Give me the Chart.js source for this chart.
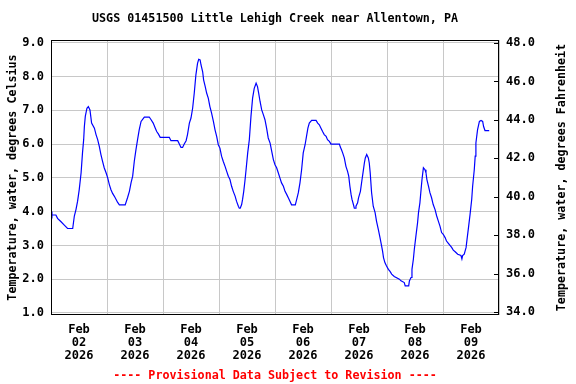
<!DOCTYPE html>
<html>
<head>
<meta charset="utf-8">
<script src="https://cdn.jsdelivr.net/npm/chart.js@4/dist/chart.umd.min.js"></script>
<style>
  html, body { margin: 0; padding: 0; background: #ffffff; }
  #wrap { width: 576px; height: 384px; }
</style>
</head>
<body>
<div id="wrap"><canvas id="c" width="576" height="384"></canvas></div>
<script>
// ---- data (hours since Feb 02 2026 00:00, water temperature in deg C) ----
const hours = [
  0, 0.4, 2.1, 2.8, 4.3, 5.7, 7.1, 9.3, 10.0, 10.7, 11.4, 12.1, 12.9, 13.5, 14.0, 14.3, 14.7, 15.4, 16.0,
  16.7, 17.4, 18.6, 19.3, 20.0, 20.7, 21.4, 22.1, 22.8, 23.6, 24.3, 25.0, 25.7, 26.4, 27.1, 27.9, 28.5, 29.3, 31.8,
  32.8, 33.6, 34.3, 35.0, 35.7, 36.4, 37.1, 37.8, 38.6, 40.0, 42.1, 42.9, 43.8, 44.7, 45.3, 46.0, 46.8, 50.7,
  51.4, 54.3, 55.0, 55.7, 56.4, 57.1, 57.9, 58.5, 59.3, 60.0, 60.7, 61.4, 62.1, 62.8, 63.3, 63.9,
  64.3, 65.0, 65.4, 66.1, 66.7, 67.4, 68.1, 68.8, 69.6, 70.3, 71.0, 71.7, 72.4, 73.1, 73.8, 74.6, 75.3, 76.0,
  76.7, 77.4, 78.1, 78.9, 79.5, 80.3, 80.7, 81.1, 81.7, 82.1, 82.6, 83.1, 83.6, 84.3, 85.0, 85.7, 86.4, 87.1, 87.9,
  88.5, 89.0, 89.6, 90.3, 91.0, 91.7, 92.4, 93.1, 93.9, 94.6, 95.3, 96.0, 96.7, 97.4, 98.1, 98.8, 99.6, 100.3,
  101.0, 101.7, 102.4, 103.1, 104.7, 105.3, 106.0, 106.7, 107.4, 108.1, 108.9, 109.5, 110.1, 110.7, 111.7, 113.6,
  114.3, 115.0, 115.7, 116.4, 117.1, 117.9, 118.5, 119.3, 120.0, 123.6, 124.0, 124.5, 125.0, 125.7, 126.4, 127.1,
  127.6, 128.1, 128.6, 129.0, 129.6, 130.0, 130.4, 130.7, 131.4, 131.8, 132.6, 133.3, 133.8, 134.3, 134.7, 135.3,
  136.0, 136.4, 136.8, 137.4, 138.1, 138.9, 139.5, 140.3, 141.0, 141.7, 142.1, 142.5, 143.1, 143.8, 144.6, 145.3,
  146.0, 147.1, 149.3, 150.0, 151.4, 151.8, 153.3, 153.6, 154.3, 154.7, 155.3, 155.7, 156.4, 157.1, 157.5, 158.1,
  158.6, 159.0, 159.6, 160.3, 160.7, 161.1, 161.8, 162.4, 163.1, 163.8, 164.6, 165.3, 166.0, 166.7, 167.4, 168.1,
  168.9, 169.5, 170.3, 171.0, 171.7, 172.4, 173.1, 174.3, 175.7, 176.1, 176.4, 177.1, 177.9, 178.3, 179.0, 179.6,
  180.3, 180.7, 181.4, 181.8, 182.1, 182.8, 183.6, 184.3, 185.0, 185.4, 186.0, 187.8
];
const tempC = [
  4.0, 3.9, 3.9, 3.8, 3.7, 3.6, 3.5, 3.5, 3.87, 4.06, 4.31, 4.65, 5.15, 5.74, 6.13, 6.52, 6.82, 7.06, 7.11,
  7.01, 6.62, 6.47, 6.28, 6.13, 5.93, 5.69, 5.49, 5.30, 5.15, 5.00, 4.80, 4.65, 4.54, 4.46, 4.36, 4.28, 4.2, 4.2,
  4.41, 4.60, 4.85, 5.05, 5.49, 5.83, 6.13, 6.42, 6.67, 6.8, 6.8, 6.72, 6.62, 6.47, 6.37, 6.30, 6.2, 6.2,
  6.1, 6.1, 6.0, 5.9, 5.9, 6.0, 6.1, 6.28, 6.62, 6.77, 7.06, 7.51, 8.05, 8.39, 8.51, 8.49,
  8.34, 8.14, 7.90, 7.70, 7.51, 7.36, 7.11, 6.92, 6.67, 6.42, 6.23, 5.98, 5.88, 5.64, 5.49, 5.34, 5.19, 5.05,
  4.95, 4.75, 4.60, 4.46, 4.31, 4.16, 4.1, 4.1, 4.21, 4.36, 4.60, 4.90, 5.24, 5.74, 6.13, 6.82, 7.36, 7.65, 7.80,
  7.70, 7.51, 7.26, 7.01, 6.87, 6.72, 6.47, 6.18, 6.03, 5.78, 5.54, 5.39, 5.30, 5.15, 5.00, 4.85, 4.75, 4.60,
  4.51, 4.41, 4.31, 4.2, 4.2, 4.36, 4.56, 4.85, 5.24, 5.74, 5.98, 6.23, 6.47, 6.62, 6.7, 6.7,
  6.62, 6.57, 6.47, 6.37, 6.28, 6.23, 6.13, 6.08, 6.0, 6.0, 5.91, 5.83, 5.74, 5.59, 5.34, 5.19,
  5.05, 4.75, 4.51, 4.36, 4.21, 4.1, 4.1, 4.16, 4.26, 4.41, 4.60, 4.95, 5.19, 5.44, 5.59, 5.69,
  5.59, 5.44, 5.15, 4.56, 4.16, 3.97, 3.72, 3.47, 3.23, 2.98, 2.83, 2.64, 2.49, 2.39, 2.29, 2.23,
  2.15, 2.08, 2.0, 1.95, 1.9, 1.8, 1.8, 1.95, 2.05, 2.29, 2.59, 2.88, 3.28, 3.67, 3.97, 4.26,
  4.65, 4.95, 5.3, 5.24, 5.15, 4.95, 4.75, 4.56, 4.41, 4.21, 4.06, 3.87, 3.72, 3.57, 3.38, 3.33,
  3.23, 3.13, 3.06, 3.0, 2.94, 2.86, 2.82, 2.74, 2.7, 2.6, 2.7, 2.74, 2.94, 3.18, 3.57, 3.92,
  4.36, 4.75, 5.24, 5.64, 6.03, 6.42, 6.67, 6.7, 6.67, 6.52, 6.4, 6.4
];
const labelHours = [12, 36, 60, 84, 108, 132, 156, 180];
const labelMonth = ["Feb", "Feb", "Feb", "Feb", "Feb", "Feb", "Feb", "Feb"];
const labelDay = ["02", "03", "04", "05", "06", "07", "08", "09"];
const labelYear = ["2026", "2026", "2026", "2026", "2026", "2026", "2026", "2026"];
const celsiusTicks = [1, 2, 3, 4, 5, 6, 7, 8, 9];
const fahrenheitTicks = [34, 36, 38, 40, 42, 44, 46, 48];
const titleText = "USGS 01451500 Little Lehigh Creek near Allentown, PA";
const leftAxisTitle = "Temperature, water, degrees Celsius";
const rightAxisTitle = "Temperature, water, degrees Fahrenheit";
const footerText = "---- Provisional Data Subject to Revision ----";

const FONT = "'DejaVu Sans Mono', 'Liberation Mono', monospace";
const points = hours.map((h, i) => ({ x: h, y: tempC[i] }));

const framePlugin = {
  id: 'frame',
  afterDraw(chart) {
    const { ctx, chartArea: a } = chart;
    const cx = (a.left + a.right) / 2;
    ctx.save();
    // plot frame
    ctx.strokeStyle = '#000';
    ctx.lineWidth = 1;
    ctx.strokeRect(a.left + 0.5, a.top + 0.5, a.right - a.left - 1, a.bottom - a.top - 1);
    // inward ticks on the right (Fahrenheit) axis
    const y2 = chart.scales.y2;
    ctx.beginPath();
    fahrenheitTicks.forEach(v => {
      const py = Math.round(y2.getPixelForValue(v)) + 0.5;
      ctx.moveTo(a.right - 5, py);
      ctx.lineTo(a.right, py);
    });
    ctx.stroke();
    // title and footer centred over the plot area
    ctx.textAlign = 'center';
    ctx.textBaseline = 'middle';
    ctx.font = 'bold 11.7px ' + FONT;
    ctx.fillStyle = '#000';
    ctx.fillText(titleText, cx, 19);
    ctx.fillStyle = '#ff0000';
    ctx.fillText(footerText, cx, 376);
    // right axis title, reading bottom-to-top
    ctx.fillStyle = '#000';
    ctx.translate(562, (a.top + a.bottom) / 2);
    ctx.rotate(-Math.PI / 2);
    ctx.fillText(rightAxisTitle, 0, 0);
    ctx.restore();
  }
};

new Chart(document.getElementById('c'), {
  type: 'line',
  data: {
    datasets: [{
      data: points,
      borderColor: '#0000ff',
      borderWidth: 1.2,
      pointRadius: 0,
      tension: 0,
      fill: false,
      yAxisID: 'y'
    }]
  },
  options: {
    responsive: false,
    animation: false,
    events: [],
    layout: { padding: { top: 40, bottom: 0, left: 0, right: 0 } },
    plugins: {
      legend: { display: false },
      tooltip: { enabled: false },
      title: { display: false }
    },
    scales: {
      x: {
        type: 'linear',
        min: 0,
        max: 192,
        afterBuildTicks: (s) => { s.ticks = labelHours.map(v => ({ value: v })); },
        afterFit: (s) => { s.height = 69; },
        grid: { offset: true, color: '#c8c8c8', lineWidth: 1, drawTicks: false },
        border: { display: false },
        ticks: {
          autoSkip: false,
          maxRotation: 0,
          padding: 8,
          color: '#000',
          font: { family: FONT, size: 12, weight: 'bold', lineHeight: 1.08 },
          callback: (v) => {
            const i = labelHours.indexOf(v);
            return i < 0 ? '' : [labelMonth[i], labelDay[i], labelYear[i]];
          }
        }
      },
      y: {
        position: 'left',
        min: 0.94,
        max: 9.08,
        afterBuildTicks: (s) => { s.ticks = celsiusTicks.map(v => ({ value: v })); },
        afterFit: (s) => { s.width = 51; },
        grid: { color: '#c8c8c8', lineWidth: 1, drawTicks: false },
        border: { display: false },
        ticks: {
          padding: 7,
          color: '#000',
          font: { family: FONT, size: 12, weight: 'bold' },
          callback: (v) => Number(v).toFixed(1)
        },
        title: {
          display: true,
          text: leftAxisTitle,
          color: '#000',
          font: { family: FONT, size: 11.7, weight: 'bold', lineHeight: 1.2 },
          padding: { top: 6, bottom: 0 }
        }
      },
      y2: {
        position: 'right',
        min: 33.84,
        max: 48.16,
        afterBuildTicks: (s) => { s.ticks = fahrenheitTicks.map(v => ({ value: v })); },
        afterFit: (s) => { s.width = 77; },
        grid: { display: false, drawOnChartArea: false, drawTicks: false },
        border: { display: false },
        ticks: {
          padding: 7,
          color: '#000',
          font: { family: FONT, size: 12, weight: 'bold' },
          callback: (v) => Number(v).toFixed(1)
        }
      }
    }
  },
  plugins: [framePlugin]
});
</script>
</body>
</html>
